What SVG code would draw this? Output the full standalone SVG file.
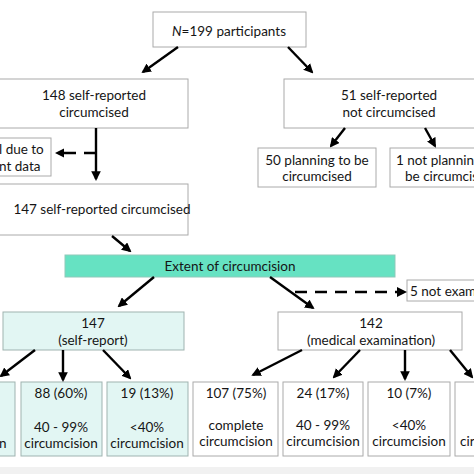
<svg xmlns="http://www.w3.org/2000/svg" width="474" height="474" viewBox="0 0 474 474">
<style>
text{font-family:Lato,"Liberation Sans",sans-serif;font-size:13.5px;fill:#151515;text-anchor:middle}
.s{text-anchor:start}
.box{fill:#fff;stroke:#aaa;stroke-width:1}
.lb{fill:#e2f6f3;stroke:#9fb3b0;stroke-width:1}
.tq{fill:#66e2c2;stroke:#8fc9ba;stroke-width:1}
.c{stroke:#000;stroke-width:2.4;fill:none;marker-end:url(#ah)}
.d{stroke:#000;stroke-width:2.6;fill:none;stroke-dasharray:12 8}
</style>
<defs>
<marker id="ah" viewBox="0 0 10 10" refX="8" refY="5" markerWidth="4" markerHeight="4" orient="auto" markerUnits="strokeWidth">
<path d="M0,0L10,5L0,10z" fill="#000"/>
</marker>
</defs>
<rect width="474" height="474" fill="#fff"/>
<rect x="0" y="467" width="474" height="7" fill="#f1f1f1"/>
<g id="n199"><rect class="box" x="153" y="12" width="153" height="35"/><text x="229" y="36"><tspan font-style="italic">N</tspan>=199 participants</text></g>
<g id="n148"><rect class="box" x="-2" y="79" width="190" height="49"/><text x="94" y="100">148 self-reported</text><text x="94" y="117">circumcised</text></g>
<g id="n51"><rect class="box" x="284" y="79" width="192" height="49"/><text x="389" y="100">51 self-reported</text><text x="389" y="117">not circumcised</text></g>
<g id="nexcl"><rect class="box" x="-2" y="138" width="53" height="38"/><text class="s" x="-1" y="154" font-size="12.5">l due to</text><text class="s" x="-1" y="171" font-size="12.5">nt data</text></g>
<g id="n50"><rect class="box" x="258" y="148" width="118" height="39"/><text x="317" y="165">50 planning to be</text><text x="317" y="181">circumcised</text></g>
<g id="n1"><rect class="box" x="390" y="148" width="86" height="39"/><text class="s" x="396" y="165" font-size="12.3">1 not plannin</text><text class="s" x="405" y="181" font-size="11.5">be circumcis</text></g>
<g id="n147"><rect class="box" x="-2" y="184" width="190" height="51"/><text x="102" y="214" font-size="12.3">147 self-reported circumcised</text></g>
<g id="nextent"><rect class="tq" x="65" y="255" width="330" height="22"/><text x="230" y="271">Extent of circumcision</text></g>
<g id="n5"><rect class="box" x="407" y="280" width="69" height="21"/><text class="s" x="410" y="296" font-size="11.8">5 not exam</text></g>
<g id="nsr"><rect class="lb" x="3" y="312" width="181" height="38"/><text x="93" y="328">147</text><text x="93" y="345">(self-report)</text></g>
<g id="nme"><rect class="box" x="278" y="312" width="184" height="38"/><text x="371" y="328">142</text><text x="371" y="345">(medical examination)</text></g>
<g id="b1"><rect class="lb" x="-2" y="382" width="17" height="74"/><text class="s" x="-1" y="448">n</text></g>
<g id="b2"><rect class="lb" x="21" y="382" width="81" height="74"/><text x="61" y="398">88 (60%)</text><text x="61" y="432">40 - 99%</text><text x="61" y="448">circumcision</text></g>
<g id="b3"><rect class="lb" x="107" y="382" width="81" height="74"/><text x="147" y="398">19 (13%)</text><text x="147" y="432">&lt;40%</text><text x="147" y="448">circumcision</text></g>
<g id="b4"><rect class="box" x="193" y="382" width="85" height="74"/><text x="236" y="398">107 (75%)</text><text x="236" y="430">complete</text><text x="236" y="446">circumcision</text></g>
<g id="b5"><rect class="box" x="283" y="382" width="80" height="74"/><text x="323" y="398">24 (17%)</text><text x="323" y="430">40 - 99%</text><text x="323" y="446">circumcision</text></g>
<g id="b6"><rect class="box" x="368" y="382" width="82" height="74"/><text x="409" y="398">10 (7%)</text><text x="409" y="430">&lt;40%</text><text x="409" y="446">circumcision</text></g>
<g id="b7"><rect class="box" x="455" y="382" width="21" height="74"/><text class="s" x="460" y="446" font-size="12">cir</text></g>
<g id="connectors">
<path class="c" d="M178,47L143,72"/>
<path class="c" d="M288,47L312,72"/>
<path class="c" d="M96,128V179"/>
<path class="d" d="M96,153H64" stroke-dasharray="10 9"/>
<path d="M55,153L64,148.5V157.5z" fill="#000"/>
<path class="c" d="M345,128L331,146"/>
<path class="c" d="M425,128L435,146"/>
<path class="c" d="M112,236L130,251"/>
<path class="c" d="M154,277L119,306"/>
<path class="c" d="M270,277L313,308"/>
<path class="d" d="M295,292H398" stroke-dasharray="14 8"/>
<path d="M407,292L397,287V297z" fill="#000"/>
<path class="c" d="M35,350L1,376"/>
<path class="c" d="M63,350V380"/>
<path class="c" d="M103,350L130,378"/>
<path class="c" d="M302,350L253,375"/>
<path class="c" d="M360,350L334,377"/>
<path class="c" d="M405,350V379"/>
<path class="c" d="M450,350L472,377"/>
</g>
</svg>
